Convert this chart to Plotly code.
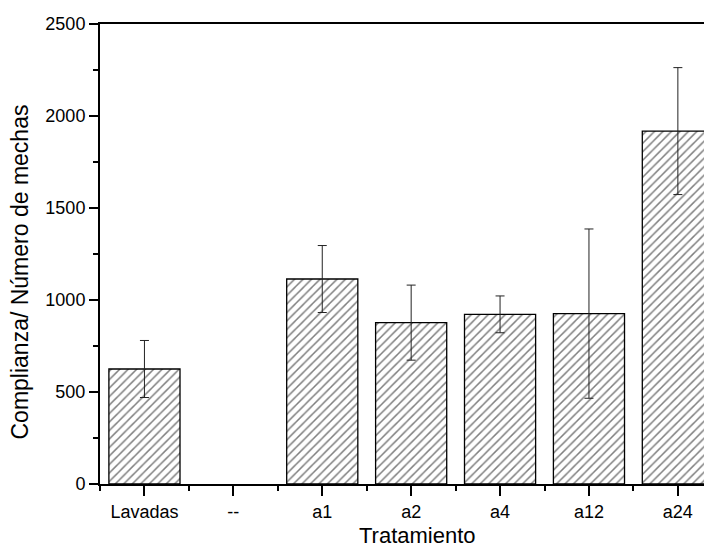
import plotly.graph_objects as go

categories = ["Lavadas", "--", "a1", "a2", "a4", "a12", "a24"]
means = [625, None, 1114, 877, 922, 926, 1918]
errors = [155, None, 182, 204, 100, 460, 345]
y_ticks = [0, 500, 1000, 1500, 2000, 2500]

x_pos = list(range(len(categories)))
FONT = "Liberation Sans, Arial, sans-serif"

fig = go.Figure()
fig.add_trace(go.Bar(
    x=x_pos, y=means, width=0.8,
    marker=dict(color="white", line=dict(color="black", width=1.3),
                pattern=dict(shape="/", size=6, solidity=0.25,
                             fgcolor="black", bgcolor="white")),
    error_y=dict(type="data", array=errors, visible=True,
                 color="#222", thickness=1, width=4.5),
    showlegend=False,
))

fig.update_layout(
    width=704, height=542,
    margin=dict(l=92, r=0, t=16, b=66),
    paper_bgcolor="white", plot_bgcolor="white",
    font=dict(family=FONT, size=18, color="black"),
    bargap=0.2,
)
fig.update_xaxes(
    range=[-0.5, 6.384], tickvals=x_pos, ticktext=categories,
    showgrid=False, zeroline=False,
    showline=True, linecolor="black", linewidth=2, mirror=True,
    ticks="outside", ticklen=10, tickwidth=2, tickcolor="black",
    minor=dict(tick0=0.5, dtick=1, ticks="outside", ticklen=5,
               tickwidth=2, tickcolor="black", showgrid=False),
    tickfont=dict(size=18),
)
fig.update_yaxes(
    range=[0, 2500], tickvals=y_ticks,
    showgrid=False, zeroline=False,
    showline=True, linecolor="black", linewidth=2,
    ticks="outside", ticklen=9, tickwidth=2, tickcolor="black",
    minor=dict(dtick=250, ticks="outside", ticklen=5, tickwidth=2,
               tickcolor="black", showgrid=False),
    tickfont=dict(size=18),
)
fig.add_annotation(text="Tratamiento", xref="paper", yref="paper",
                   x=0.5187, y=-0.113, xanchor="center", yanchor="middle",
                   showarrow=False, font=dict(size=22))
fig.add_annotation(text="Complianza/ Número de mechas", xref="paper", yref="paper",
                   x=-0.1307, y=0.4598, xanchor="center", yanchor="middle",
                   textangle=-90, showarrow=False, font=dict(size=23))

fig.write_html("out.html")
